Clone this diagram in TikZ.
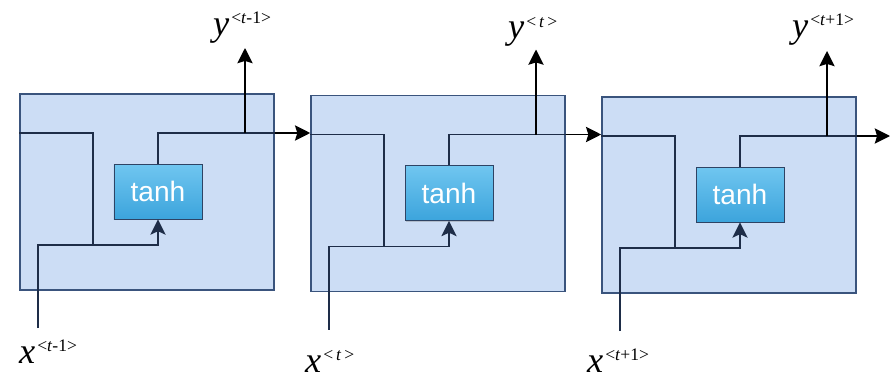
\documentclass[tikz,border=0pt]{standalone}
\usepackage{fontspec}
\setmainfont{Liberation Serif}
\newfontfamily\tanhfont{Liberation Sans}
\usetikzlibrary{arrows.meta,positioning,shadows}
\definecolor{rnnCellBlue}{RGB}{204,221,245}
\definecolor{rnnEdge}{RGB}{58,84,125}
\definecolor{rnnLine}{RGB}{30,45,72}
\definecolor{rnnTanhTop}{RGB}{112,198,240}
\definecolor{rnnTanhBottom}{RGB}{60,164,220}
\newcommand{\rnnlabel}[2]{{\fontsize{31}{31}\selectfont\textit{#1}}\,\raisebox{10pt}{\fontsize{15}{15}\selectfont #2}}

\begin{document}
\begin{tikzpicture}[
  x=0.03cm,y=0.03cm,
  cell/.style={
    draw=rnnEdge,
    fill=rnnCellBlue,
    line width=1.3pt,
    minimum width=7.62cm,
    minimum height=5.88cm
  },
  tanhbox/.style={
    draw=rnnEdge!80!black,
    line width=0.8pt,
    top color=rnnTanhTop,
    bottom color=rnnTanhBottom,
    minimum width=2.64cm,
    minimum height=1.65cm,
    text=white,
    font=\tanhfont\fontsize{24}{24}\selectfont,
    drop shadow={shadow xshift=1pt,shadow yshift=-1pt,opacity=0.35}
  },
  wire/.style={rnnLine,line width=1.5pt},
  feed/.style={wire,-{Stealth[length=13pt,width=13pt,inset=3pt]}},
  flow/.style={black,line width=1.5pt,-{Stealth[length=13pt,width=13pt,inset=2pt]}},
  seq/.style={anchor=base west,inner sep=0pt}
]
  \useasboundingbox (0,0) rectangle (891,380);

  % three unrolled cells
  \foreach \i in {1,2,3}{
    \pgfmathsetmacro\dx{(\i-1)*291}
    \pgfmathsetmacro\dy{-(\i-1)*1.5}
    \begin{scope}[shift={(\dx,\dy)}]
      \node[cell] (cell\i) at (147,188) {};
      \node[tanhbox] (tanh\i) at (158,188.5) {tanh};
      \coordinate (h\i) at (0,247);
      \coordinate (in\i) at (38,52);
      \coordinate (join\i) at (93,135);
      \coordinate (tap\i) at (245,247);
      \coordinate (out\i) at (245,332);
      \draw[wire] (cell\i.west |- h\i) -| (join\i);
      \draw[feed] (in\i) |- (join\i) -| (tanh\i.south);
      \draw[wire] (tanh\i.north) |- (cell\i.east |- h\i);
      \draw[flow] (tap\i) -- (out\i);
    \end{scope}
  }

  % hidden state between cells
  \coordinate (hend) at (890,0);
  \draw[flow] (cell1.east |- h1) -- (cell2.west |- h1);
  \draw[flow] (cell2.east |- h2) -- (cell3.west |- h2);
  \draw[flow] (cell3.east |- h3) -- (hend |- h3);

  % outputs and inputs
  \node[seq] (y1) at (213,345) {\rnnlabel{y}{<\textit{t}-1>}};
  \node[seq] (y2) at (508,341) {\rnnlabel{y}{<\,\textit{t}\,>}};
  \node[seq] (y3) at (792,343) {\rnnlabel{y}{<\textit{t}+1>}};
  \node[seq] (x1) at (19,17) {\rnnlabel{x}{<\textit{t}-1>}};
  \node[seq] (x2) at (305,8) {\rnnlabel{x}{<\,\textit{t}\,>}};
  \node[seq] (x3) at (587,8) {\rnnlabel{x}{<\textit{t}+1>}};
\end{tikzpicture}
\end{document}
